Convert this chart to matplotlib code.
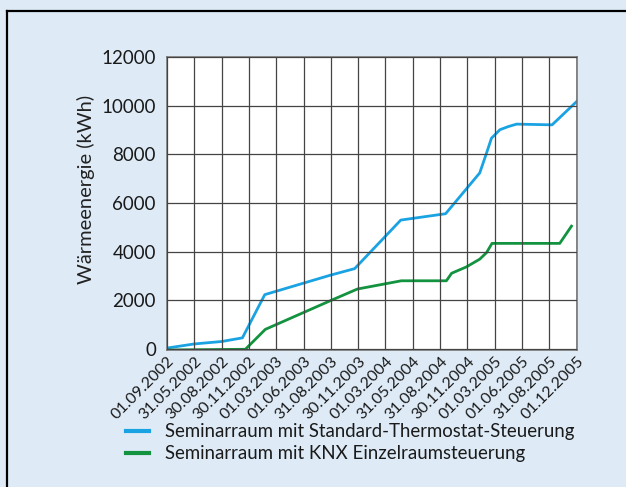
import numpy as np
import matplotlib.pyplot as plt
from matplotlib.lines import Line2D

plt.rcParams['font.family'] = ['Lato', 'DejaVu Sans']

# Datumsachse (kategorisch, gleiche Abstände)
dates = ['01.09.2002', '31.05.2002', '30.08.2002', '30.11.2002', '01.03.2003',
         '01.06.2003', '31.08.2003', '30.11.2003', '01.03.2004', '31.05.2004',
         '31.08.2004', '30.11.2004', '01.03.2005', '01.06.2005', '31.08.2005',
         '01.12.2005']

# Standard-Thermostat (Position auf der Kategorienachse, kWh)
std_x = [0, 1, 2, 2.76, 3.58, 5.98, 6.87, 8.56, 10.2, 11.45, 11.7, 11.88,
         12.19, 12.5, 12.8, 14.1, 15]
std_y = [30, 200, 300, 450, 2230, 3030, 3300, 5300, 5560, 7240, 8060, 8670,
         9020, 9150, 9250, 9220, 10180]

# KNX Einzelraumsteuerung
knx_x = [0, 2.87, 3.6, 5.98, 6.97, 8.58, 10.23, 10.42, 10.96, 11.45, 11.7,
         11.9, 14.38, 14.81]
knx_y = [-50, -20, 800, 1980, 2460, 2800, 2800, 3110, 3370, 3690, 3960,
         4340, 4340, 5050]

blue = '#1aa3e3'
green = '#13933f'
bg = '#deebf7'

fig = plt.figure(figsize=(6.26, 4.87), dpi=100, facecolor=bg)
ax = fig.add_axes([0.2668, 0.2813, 0.6544, 0.601])
ax.set_facecolor('white')

ax.plot(std_x, std_y, color=blue, lw=2, solid_joinstyle='round')
ax.plot(knx_x, knx_y, color=green, lw=2, solid_joinstyle='round')

ax.set_xlim(0, 15)
ax.set_ylim(-50, 12000)
ax.set_xticks(range(len(dates)))
ax.set_xticklabels(dates, rotation=45, ha='right', va='top',
                   rotation_mode='anchor', fontsize=11.5, color='#1a1a1a')
ax.set_yticks(range(0, 12001, 2000))
ax.tick_params(axis='y', labelsize=13.5, labelcolor='#1a1a1a', length=0, pad=8)
ax.tick_params(axis='x', length=0, pad=3)
ax.grid(True, color='#444444', lw=0.9)
ax.set_axisbelow(False)
for s in ax.spines.values():
    s.set_color('#777777')
    s.set_linewidth(1.2)
ax.set_ylabel('Wärmeenergie (kWh)', fontsize=14.5, color='#222222')
ax.yaxis.set_label_coords(-0.175, 0.55)

# Rahmen oben und links
fig.add_artist(Line2D([0.011, 0.011], [0, 1 - 11 / 487], color='black', lw=1.6))
fig.add_artist(Line2D([0.011, 1], [1 - 11 / 487, 1 - 11 / 487], color='black', lw=1.6))

# Legende
fig.add_artist(Line2D([126 / 626, 149 / 626], [1 - 431 / 487] * 2, color=blue, lw=3))
fig.add_artist(Line2D([126 / 626, 149 / 626], [1 - 453 / 487] * 2, color=green, lw=3))
fig.text(165 / 626, 1 - 431 / 487, 'Seminarraum mit Standard-Thermostat-Steuerung',
         fontsize=13.4, va='center', color='#1a1a1a')
fig.text(165 / 626, 1 - 453 / 487, 'Seminarraum mit KNX Einzelraumsteuerung',
         fontsize=13.4, va='center', color='#1a1a1a')

fig.savefig('out.png', facecolor=bg)
